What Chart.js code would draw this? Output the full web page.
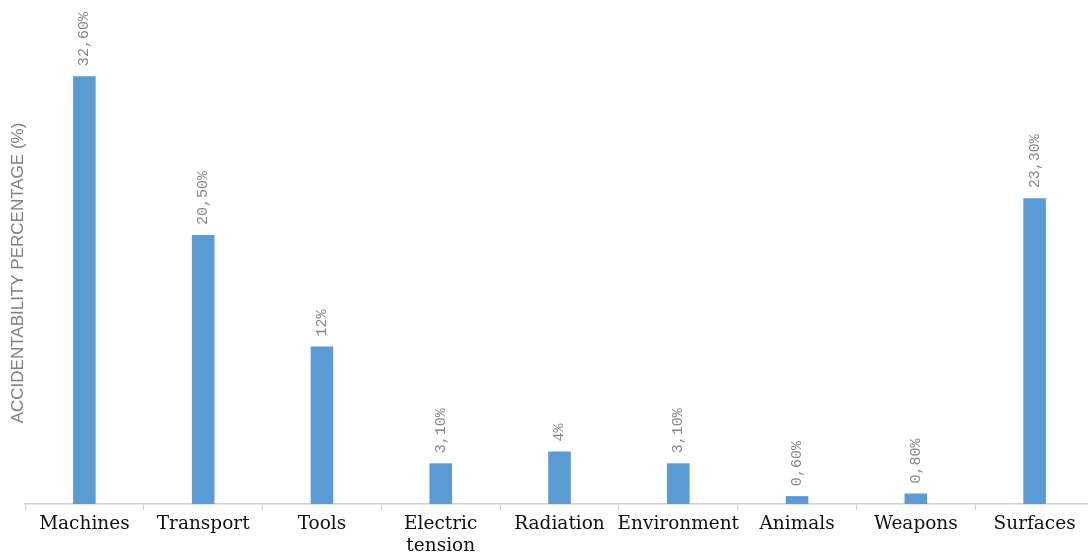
<!DOCTYPE html>
<html>
<head>
<meta charset="utf-8">
<script src="https://cdn.jsdelivr.net/npm/chart.js@4.4.1/dist/chart.umd.min.js"></script>
<style>
  body { margin: 0; background: #fff; overflow: hidden; }
</style>
</head>
<body>
<canvas id="chart" width="1094" height="558"></canvas>
<script>
const categories = ['Machines', 'Transport', 'Tools', ['Electric', 'tension'], 'Radiation', 'Environment', 'Animals', 'Weapons', 'Surfaces'];
const percentages = [32.6, 20.5, 12, 3.1, 4, 3.1, 0.6, 0.8, 23.3];
const valueLabels = ['32,60%', '20,50%', '12%', '3,10%', '4%', '3,10%', '0,60%', '0,80%', '23,30%'];

// vertical value labels above each bar
const barLabels = {
  id: 'barLabels',
  afterDatasetsDraw(chart) {
    const ctx = chart.ctx;
    const meta = chart.getDatasetMeta(0);
    ctx.save();
    ctx.font = '15px "Liberation Mono"';
    ctx.fillStyle = '#858585';
    ctx.textAlign = 'left';
    ctx.textBaseline = 'middle';
    meta.data.forEach((bar, i) => {
      ctx.save();
      ctx.translate(bar.x, bar.y - 10);
      ctx.rotate(-Math.PI / 2);
      ctx.fillText(valueLabels[i], 0, 0);
      ctx.restore();
    });
    ctx.restore();
  }
};

const chart = new Chart(document.getElementById('chart').getContext('2d'), {
  type: 'bar',
  data: {
    labels: categories,
    datasets: [{
      data: percentages,
      backgroundColor: '#5b9bd5',
      barPercentage: 0.19,
      categoryPercentage: 1
    }]
  },
  options: {
    responsive: false,
    animation: false,
    layout: { padding: { top: 42, left: 0, right: 0, bottom: 0 } },
    plugins: { legend: { display: false }, tooltip: { enabled: false } },
    scales: {
      y: {
        min: 0,
        max: 35.2,
        ticks: { display: false },
        grid: { display: false },
        border: { display: false },
        title: {
          display: true,
          text: 'ACCIDENTABILITY PERCENTAGE (%)',
          color: '#7f7f7f',
          font: { family: 'Liberation Sans', size: 17 },
          padding: { top: 8, bottom: 0 }
        },
        afterFit(s) { s.width = 25; }
      },
      x: {
        grid: { display: true, drawOnChartArea: false, drawTicks: true, tickLength: 6, color: '#d0d0d0', offset: true },
        border: { display: true, color: '#d0d0d0', width: 1.5 },
        ticks: {
          color: '#111',
          font: { family: 'DejaVu Serif', size: 18.5 },
          padding: 3,
          maxRotation: 0,
          autoSkip: false
        },
        afterFit(s) { s.height = 54; }
      }
    }
  },
  plugins: [barLabels]
});
</script>
</body>
</html>
